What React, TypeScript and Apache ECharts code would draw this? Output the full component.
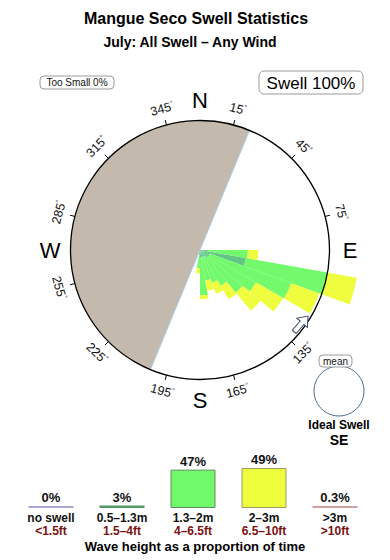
import React, { useEffect, useRef } from "react";
import * as echarts from "echarts";

// ---- data ----
const binCenters = [95, 105, 115, 125, 135, 145, 155, 165, 175, 185]; // bearing of each 10° bin
const swellSmall = [6, 36, 8, 8, 8, 6, 6, 6, 6, 4]; // 0.5–1.3m (radius units, circle = 100)
const swellMid = [31, 64, 67, 42, 35, 26, 21, 18, 29, 10]; // 1.3–2m
const swellBig = [8, 23, 23, 24, 18, 12, 9, 8, 3, 4]; // 2–3m
const degreeLabels = [15, 45, 75, 135, 165, 195, 225, 255, 285, 315, 345];
const compassPoints = [
  { t: "N", b: 0 },
  { t: "E", b: 90 },
  { t: "S", b: 180 },
  { t: "W", b: 270 },
];
const landFrom = 202.5;
const landTo = 382.5;
const sizeClasses = ["no swell", "0.5–1.3m", "1.3–2m", "2–3m", ">3m"];
const sizeFeet = ["<1.5ft", "1.5–4ft", "4–6.5ft", "6.5–10ft", ">10ft"];
const sizeShares = [0, 3, 47, 49, 0.3];
const sizeColors = ["#a9a6d2", "#4f9a66", "#70f96a", "#eefd3c", "#cfa2a2"];
const sizeBorders = ["#a9a6d2", "#4f9a66", "#5e8c5e", "#9c9c6a", "#cfa2a2"];

const FONT = "'Liberation Sans', Arial, Helvetica, sans-serif";
const CX = 200;
const CY = 250;
const R = 129.5;

function buildBins(vals: number[]) {
  const arr: number[] = new Array(36).fill(0);
  binCenters.forEach((c, i) => {
    arr[Math.floor(c / 10)] = vals[i];
  });
  return arr;
}

export default function App() {
  const ref = useRef<HTMLDivElement>(null);
  useEffect(() => {
    if (!ref.current) return;
    const chart = echarts.init(ref.current, undefined, { renderer: "svg" });
    const cats = Array.from({ length: 36 }, (_, i) => `${i * 10 + 5}°`);
    const rad = (d: number) => (d * Math.PI) / 180;

    const degTexts = degreeLabels.map((b) => {
      const rot = b <= 90 ? b : b < 270 ? b - 180 : b - 360;
      return {
        type: "text",
        x: CX + 146 * Math.sin(rad(b)),
        y: CY - 146 * Math.cos(rad(b)),
        rotation: -rad(rot),
        z: 5,
        style: {
          text: `{d|${b}}{s|°}`,
          fontFamily: FONT,
          fill: "#111",
          align: "center",
          verticalAlign: "middle",
          rich: {
            d: { fontSize: 12.5, fontFamily: FONT, fill: "#111", lineHeight: 14 },
            s: { fontSize: 7, fontFamily: FONT, fill: "#111", lineHeight: 14, verticalAlign: "top" },
          },
        },
      };
    });
    const compassTexts = compassPoints.map((p) => ({
      type: "text",
      x: CX + 150 * Math.sin(rad(p.b)),
      y: CY - 150 * Math.cos(rad(p.b)),
      z: 5,
      style: {
        text: p.t,
        fontSize: 22,
        fontFamily: FONT,
        fill: "#000",
        align: "center",
        verticalAlign: "middle",
      },
    }));

    const seriesBase = {
      type: "bar",
      coordinateSystem: "polar",
      polarIndex: 1,
      stack: "rose",
      barCategoryGap: "0%",
      clip: false,
      silent: true,
    };

    chart.setOption({
      animation: false,
      backgroundColor: "#fff",
      textStyle: { fontFamily: FONT },
      polar: [
        { center: [CX, CY], radius: R },
        { center: [CX, CY], radius: R },
      ],
      angleAxis: [
        {
          polarIndex: 0,
          type: "value",
          min: 0,
          max: 360,
          interval: 30,
          startAngle: 75,
          clockwise: true,
          axisLine: { show: false },
          axisTick: { show: true, length: 5, lineStyle: { color: "#000", width: 1 } },
          axisLabel: { show: false },
          splitLine: { show: false },
        },
        {
          polarIndex: 1,
          type: "category",
          data: cats,
          startAngle: 90,
          clockwise: true,
          axisLine: { show: false },
          axisTick: { show: false },
          axisLabel: { show: false },
          splitLine: { show: false },
        },
      ],
      radiusAxis: [
        { polarIndex: 0, min: 0, max: 1, show: false, axisLine: { show: false }, axisTick: { show: false }, axisLabel: { show: false }, splitLine: { show: false } },
        { polarIndex: 1, min: 0, max: 100, show: false, axisLine: { show: false }, axisTick: { show: false }, axisLabel: { show: false }, splitLine: { show: false } },
      ],
      grid: [{ left: 15.5, width: 355, top: 468, height: 40 }],
      xAxis: [
        {
          gridIndex: 0,
          type: "category",
          data: sizeClasses,
          axisLine: { show: false },
          axisTick: { show: false },
          axisLabel: {
            interval: 0,
            margin: 3,
            formatter: (v: string, i: number) => `{a|${v}}\n{b|${sizeFeet[i]}}`,
            rich: {
              a: { fontSize: 12, fontWeight: "bold", color: "#111", lineHeight: 13, fontFamily: FONT },
              b: { fontSize: 12, fontWeight: "bold", color: "#7a1212", lineHeight: 13, fontFamily: FONT },
            },
          },
        },
      ],
      yAxis: [{ gridIndex: 0, type: "value", min: 0, max: 49, show: false, splitLine: { show: false } }],
      series: [
        { ...seriesBase, name: "0.5–1.3m", data: buildBins(swellSmall), itemStyle: { color: "#62c584" } },
        { ...seriesBase, name: "1.3–2m", data: buildBins(swellMid), itemStyle: { color: "#72f96c" } },
        { ...seriesBase, name: "2–3m", data: buildBins(swellBig), itemStyle: { color: "#effd3e" } },
        {
          type: "bar",
          xAxisIndex: 0,
          yAxisIndex: 0,
          barWidth: 45,
          barMinHeight: 2,
          silent: true,
          data: sizeShares.map((v, i) => ({
            value: v,
            itemStyle: {
              color: sizeColors[i],
              borderColor: sizeBorders[i],
              borderWidth: i === 2 || i === 3 ? 1 : 0,
            },
          })),
          label: {
            show: true,
            position: "top",
            distance: 2,
            formatter: "{c}%",
            fontSize: 13,
            fontWeight: "bold",
            color: "#111",
            fontFamily: FONT,
          },
        },
      ],
      graphic: [
        {
          type: "sector",
          z: 1,
          silent: true,
          shape: {
            cx: CX,
            cy: CY,
            r: R,
            r0: 0,
            startAngle: rad(landFrom - 90),
            endAngle: rad(landTo - 90),
            clockwise: true,
          },
          style: { fill: "#c4b9ad" },
        },
        {
          type: "line",
          z: 1,
          silent: true,
          shape: {
            x1: CX + R * Math.sin(rad(landFrom)),
            y1: CY - R * Math.cos(rad(landFrom)),
            x2: CX + R * Math.sin(rad(landTo)),
            y2: CY - R * Math.cos(rad(landTo)),
          },
          style: { stroke: "#a9d0ee", lineWidth: 1 },
        },
        {
          type: "circle",
          z: 10,
          silent: true,
          shape: { cx: CX, cy: CY, r: R },
          style: { fill: "none", stroke: "#000", lineWidth: 1.3 },
        },
        ...degTexts,
        ...compassTexts,
        {
          type: "text",
          x: 196,
          y: 18,
          style: { text: "Mangue Seco Swell Statistics", fontSize: 16, fontWeight: "bold", fontFamily: FONT, fill: "#000", align: "center", verticalAlign: "middle" },
        },
        {
          type: "text",
          x: 190,
          y: 42,
          style: { text: "July: All Swell – Any Wind", fontSize: 14, fontWeight: "bold", fontFamily: FONT, fill: "#000", align: "center", verticalAlign: "middle" },
        },
        {
          type: "rect",
          shape: { x: 40, y: 76, width: 74, height: 13, r: 4 },
          style: { fill: "#fff", stroke: "#9a9a9a", lineWidth: 1 },
        },
        {
          type: "text",
          x: 77,
          y: 82.5,
          style: { text: "Too Small 0%", fontSize: 10, fontFamily: FONT, fill: "#111", align: "center", verticalAlign: "middle" },
        },
        {
          type: "rect",
          shape: { x: 259, y: 71, width: 104, height: 23, r: 5 },
          style: { fill: "#fff", stroke: "#9a9a9a", lineWidth: 1 },
        },
        {
          type: "text",
          x: 311,
          y: 83,
          style: { text: "Swell 100%", fontSize: 17, fontFamily: FONT, fill: "#000", align: "center", verticalAlign: "middle" },
        },
        {
          type: "polygon",
          z: 11,
          x: 308,
          y: 316,
          rotation: -rad(41),
          shape: {
            points: [
              [0, 0],
              [7, 9],
              [2.5, 9],
              [2.5, 21],
              [-2.5, 21],
              [-2.5, 9],
              [-7, 9],
            ],
          },
          style: { fill: "#fff", stroke: "#3c4c6c", lineWidth: 1 },
        },
        {
          type: "circle",
          shape: { cx: 339, cy: 391, r: 25 },
          style: { fill: "#fff", stroke: "#4a6b8a", lineWidth: 1 },
        },
        {
          type: "rect",
          z: 2,
          shape: { x: 319, y: 355, width: 33, height: 12, r: 4 },
          style: { fill: "#fff", stroke: "#9a9a9a", lineWidth: 1 },
        },
        {
          type: "text",
          z: 3,
          x: 335.5,
          y: 361.5,
          style: { text: "mean", fontSize: 10, fontFamily: FONT, fill: "#111", align: "center", verticalAlign: "middle" },
        },
        {
          type: "text",
          x: 339,
          y: 425,
          style: { text: "Ideal Swell", fontSize: 12, fontWeight: "bold", fontFamily: FONT, fill: "#000", align: "center", verticalAlign: "middle" },
        },
        {
          type: "text",
          x: 339,
          y: 440,
          style: { text: "SE", fontSize: 14, fontWeight: "bold", fontFamily: FONT, fill: "#000", align: "center", verticalAlign: "middle" },
        },
        {
          type: "text",
          x: 195,
          y: 546,
          style: { text: "Wave height as a proportion of time", fontSize: 13, fontWeight: "bold", fontFamily: FONT, fill: "#000", align: "center", verticalAlign: "middle" },
        },
      ],
    });
    return () => chart.dispose();
  }, []);
  return (
    <div
      ref={ref}
      style={{ position: "fixed", left: 0, top: 0, width: 390, height: 560, background: "#fff" }}
    />
  );
}
